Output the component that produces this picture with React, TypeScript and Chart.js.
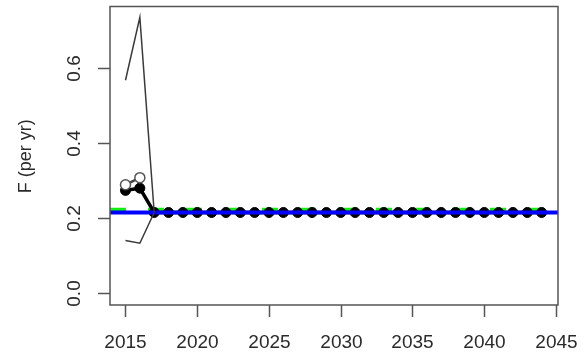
import React, { useEffect, useRef } from "react";
import { Chart, registerables } from "chart.js";

Chart.register(...registerables);

// Projection years and fishing mortality estimates
const years = [
  2015, 2016, 2017, 2018, 2019, 2020, 2021, 2022, 2023, 2024,
  2025, 2026, 2027, 2028, 2029, 2030, 2031, 2032, 2033, 2034,
  2035, 2036, 2037, 2038, 2039, 2040, 2041, 2042, 2043, 2044,
];
const fMedian = [
  0.274, 0.28, 0.215, 0.215, 0.215, 0.215, 0.215, 0.215, 0.215, 0.215,
  0.215, 0.215, 0.215, 0.215, 0.215, 0.215, 0.215, 0.215, 0.215, 0.215,
  0.215, 0.215, 0.215, 0.215, 0.215, 0.215, 0.215, 0.215, 0.215, 0.215,
];
const ciYears = [2015, 2016, 2017];
const fUpper = [0.568, 0.736, 0.215];
const fLower = [0.14, 0.133, 0.215];
const obsYears = [2015, 2016];
const fObserved = [0.289, 0.308];
const fTargetBlue = 0.215;
const fTargetGreen = 0.222;

const xTicks = [2015, 2020, 2025, 2030, 2035, 2040, 2045];
const yTicks = [0.0, 0.2, 0.4, 0.6];
const xMin = 2013.92;
const xMax = 2045.14;
const yMin = -0.032;
const yMax = 0.765;

const FONT = '"Liberation Sans", Arial, sans-serif';

const frame = {
  id: "frame",
  afterDraw(chart: any) {
    const { ctx, chartArea: a, scales } = chart;
    const xs = scales.x;
    const ys = scales.y;
    ctx.save();
    ctx.strokeStyle = "#555";
    ctx.lineWidth = 1.5;
    ctx.strokeRect(a.left, a.top, a.right - a.left, a.bottom - a.top);
    ctx.fillStyle = "#2a2a2a";
    ctx.font = `19px ${FONT}`;
    ctx.textAlign = "center";
    ctx.textBaseline = "middle";
    for (const t of xTicks) {
      const px = Math.round(xs.getPixelForValue(t)) + 0.5;
      ctx.beginPath();
      ctx.moveTo(px, a.bottom);
      ctx.lineTo(px, a.bottom + 12);
      ctx.stroke();
      ctx.fillText(String(t), px, a.bottom + 38);
    }
    for (const t of yTicks) {
      const py = Math.round(ys.getPixelForValue(t)) + 0.5;
      ctx.beginPath();
      ctx.moveTo(a.left, py);
      ctx.lineTo(a.left - 12, py);
      ctx.stroke();
      ctx.save();
      ctx.translate(a.left - 35, py);
      ctx.rotate(-Math.PI / 2);
      ctx.fillText(t.toFixed(1), 0, 0);
      ctx.restore();
    }
    ctx.font = `18px ${FONT}`;
    ctx.save();
    ctx.translate(26, ys.getPixelForValue(0.365));
    ctx.rotate(-Math.PI / 2);
    ctx.fillText("F (per yr)", 0, 0);
    ctx.restore();
    ctx.restore();
  },
};

export default function App() {
  const ref = useRef<HTMLCanvasElement>(null);
  useEffect(() => {
    if (!ref.current) return;
    const pts = (xsArr: number[], vs: number[]) => xsArr.map((x, i) => ({ x, y: vs[i] }));
    const chart = new Chart(ref.current, {
      type: "line",
      data: {
        datasets: [
          {
            data: pts(ciYears, fUpper),
            borderColor: "#3a3a3a",
            borderWidth: 1.5,
            pointRadius: 0,
          },
          {
            data: pts(ciYears, fLower),
            borderColor: "#3a3a3a",
            borderWidth: 1.5,
            pointRadius: 0,
          },
          {
            data: [{ x: xMin, y: fTargetBlue }, { x: xMax, y: fTargetBlue }],
            borderColor: "#0000ff",
            borderWidth: 4,
            pointRadius: 0,
          },
          {
            data: pts(obsYears, fObserved),
            borderColor: "#444",
            borderWidth: 2.5,
            pointRadius: 5,
            pointBackgroundColor: "#fff",
            pointBorderColor: "#555",
            pointBorderWidth: 1.5,
          },
          {
            data: pts(years, fMedian),
            borderColor: "#000",
            borderWidth: 3.5,
            pointRadius: 5,
            pointBackgroundColor: "#000",
            pointBorderColor: "#000",
            pointBorderWidth: 1,
          },
          {
            data: [{ x: xMin, y: fTargetGreen }, { x: xMax, y: fTargetGreen }],
            borderColor: "#11ee11",
            borderWidth: 4,
            borderDash: [16, 22],
            pointRadius: 0,
          },
        ],
      },
      options: {
        responsive: false,
        animation: false,
        layout: { padding: { left: 110, top: 5, right: 25, bottom: 48 } },
        plugins: { legend: { display: false }, tooltip: { enabled: false } },
        scales: {
          x: { type: "linear", min: xMin, max: xMax, display: false },
          y: { type: "linear", min: yMin, max: yMax, display: false },
        },
      },
      plugins: [frame],
    });
    return () => chart.destroy();
  }, []);
  return (
    <div style={{ position: "fixed", left: 0, top: 0, width: 583, height: 353, background: "#fff" }}>
      <canvas ref={ref} width={583} height={353} />
    </div>
  );
}
